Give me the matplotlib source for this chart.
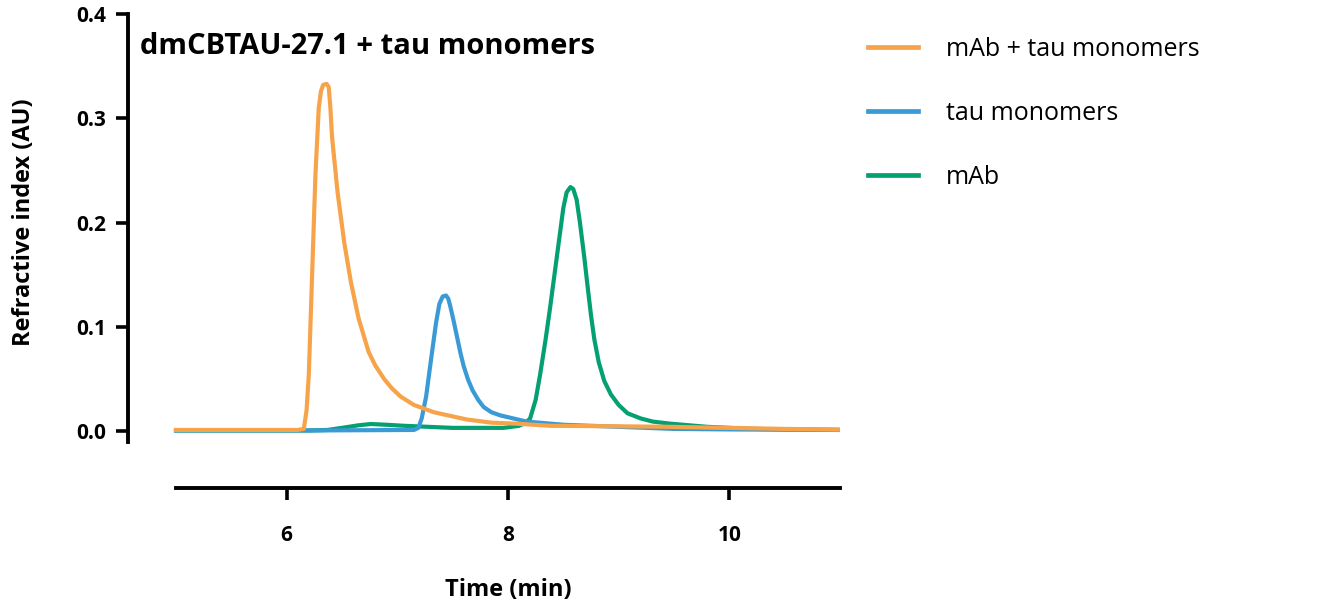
import matplotlib
matplotlib.use("Agg")
import matplotlib.pyplot as plt

# ---- data ----
orange_x = [5.0, 6.10, 6.155, 6.18, 6.20, 6.23, 6.26, 6.29, 6.31, 6.33, 6.36, 6.38, 6.395, 6.41, 6.46,
            6.52, 6.58, 6.65, 6.74, 6.80, 6.88, 6.95, 7.03, 7.15, 7.33, 7.50, 7.63, 7.85, 8.08, 8.38,
            9.0, 9.45, 10.0, 10.5, 11.0]
orange_y = [0.001, 0.001, 0.002, 0.020, 0.054, 0.150, 0.246, 0.310, 0.326, 0.332, 0.333, 0.330, 0.310, 0.282, 0.229,
            0.181, 0.143, 0.108, 0.076, 0.063, 0.050, 0.041, 0.033, 0.025, 0.018, 0.014, 0.011, 0.008, 0.007, 0.005,
            0.0045, 0.004, 0.003, 0.002, 0.0013]

blue_x = [5.0, 6.2, 7.15, 7.19, 7.22, 7.26, 7.30, 7.35, 7.38, 7.41, 7.44, 7.46, 7.48, 7.51, 7.54, 7.57,
          7.60, 7.64, 7.68, 7.73, 7.78, 7.85, 7.93, 8.05, 8.17, 8.5, 9.0, 9.5, 10.0, 11.0]
blue_y = [0.0005, 0.0005, 0.001, 0.003, 0.012, 0.033, 0.065, 0.104, 0.122, 0.129, 0.130, 0.127, 0.119, 0.105,
          0.090, 0.075, 0.062, 0.049, 0.039, 0.030, 0.023, 0.018, 0.015, 0.012, 0.009, 0.006, 0.004, 0.002,
          0.0015, 0.001]

green_x = [5.0, 6.2, 6.37, 6.5, 6.65, 6.76, 6.9, 7.06, 7.5, 7.96, 8.1, 8.16, 8.2, 8.25, 8.29, 8.34, 8.38,
           8.44, 8.50, 8.53, 8.565, 8.59, 8.62, 8.65, 8.69, 8.72, 8.75, 8.78, 8.82, 8.87, 8.93, 9.0, 9.08,
           9.2, 9.31, 9.47, 9.8, 10.2, 11.0]
green_y = [0.0005, 0.0005, 0.001, 0.003, 0.0055, 0.0067, 0.006, 0.005, 0.003, 0.003, 0.005, 0.008, 0.012,
           0.030, 0.054, 0.088, 0.118, 0.166, 0.214, 0.229, 0.234, 0.232, 0.222, 0.200, 0.166, 0.138, 0.111,
           0.088, 0.066, 0.048, 0.035, 0.025, 0.017, 0.012, 0.009, 0.007, 0.004, 0.002, 0.001]

labels = ["mAb + tau monomers", "tau monomers", "mAb"]
colors = ["#F7A34A", "#3A9AD6", "#05A072"]
title = "dmCBTAU-27.1 + tau monomers"
xlabel = "Time (min)"
ylabel = "Refractive index (AU)"
xticks = [6, 8, 10]
yticks = [0.0, 0.1, 0.2, 0.3, 0.4]

plt.rcParams['font.family'] = ['Open Sans', 'DejaVu Sans']

W, H = 1320, 612
fig = plt.figure(figsize=(W / 100, H / 100), dpi=100)
left_px, right_px, top_px, bottom_px = 128, 840, 14, 488
ax = fig.add_axes([left_px / W, 1 - bottom_px / H, (right_px - left_px) / W, (bottom_px - top_px) / H])

lw = 3.0
lg = ax.plot(green_x, green_y, color=colors[2], lw=lw, label=labels[2], solid_joinstyle='round')[0]
lb = ax.plot(blue_x, blue_y, color=colors[1], lw=lw, label=labels[1], solid_joinstyle='round')[0]
lo = ax.plot(orange_x, orange_y, color=colors[0], lw=lw, label=labels[0], solid_joinstyle='round')[0]

px_per_x = (840 - 176) / 6.0
ax.set_xlim(5 - (176 - left_px) / px_per_x, 11)
px_per_y = (431 - 14) / 0.4
ax.set_ylim(-(bottom_px - 431) / px_per_y, 0.4)

for s in ['top', 'right']:
    ax.spines[s].set_visible(False)
ax.spines['left'].set_bounds(-0.011, 0.4)
ax.spines['bottom'].set_bounds(5, 11)
for s in ['left', 'bottom']:
    ax.spines[s].set_linewidth(2.8)

ax.set_xticks(xticks)
ax.set_xticklabels([str(t) for t in xticks])
ax.set_yticks(yticks)
ax.set_yticklabels([f"{t:.1f}" for t in yticks])
ax.tick_params(axis='both', direction='out', width=2.6, length=8.5, labelsize=15)
ax.tick_params(axis='y', pad=7)
ax.tick_params(axis='x', pad=18)
for lab in ax.get_xticklabels() + ax.get_yticklabels():
    lab.set_fontweight('bold')

fig.text(140 / W, 1 - 47 / H, title, fontsize=21, fontweight='bold', ha='left', va='center')
fig.text(24 / W, 1 - 222 / H, ylabel, rotation=90, fontsize=17, fontweight='bold', ha='center', va='center')
fig.text(508 / W, 1 - 590 / H, xlabel, fontsize=17, fontweight='bold', ha='center', va='center')

leg = fig.legend(handles=[lo, lb, lg], labels=labels, loc='upper left',
                 bbox_to_anchor=(868 / W, 1 - 37 / H), frameon=False, fontsize=18,
                 handlelength=2.0, handletextpad=1.1, labelspacing=1.56, borderpad=0, borderaxespad=0)
for h in leg.get_lines():
    h.set_linewidth(3.4)

fig.savefig("out.png", dpi=100)
